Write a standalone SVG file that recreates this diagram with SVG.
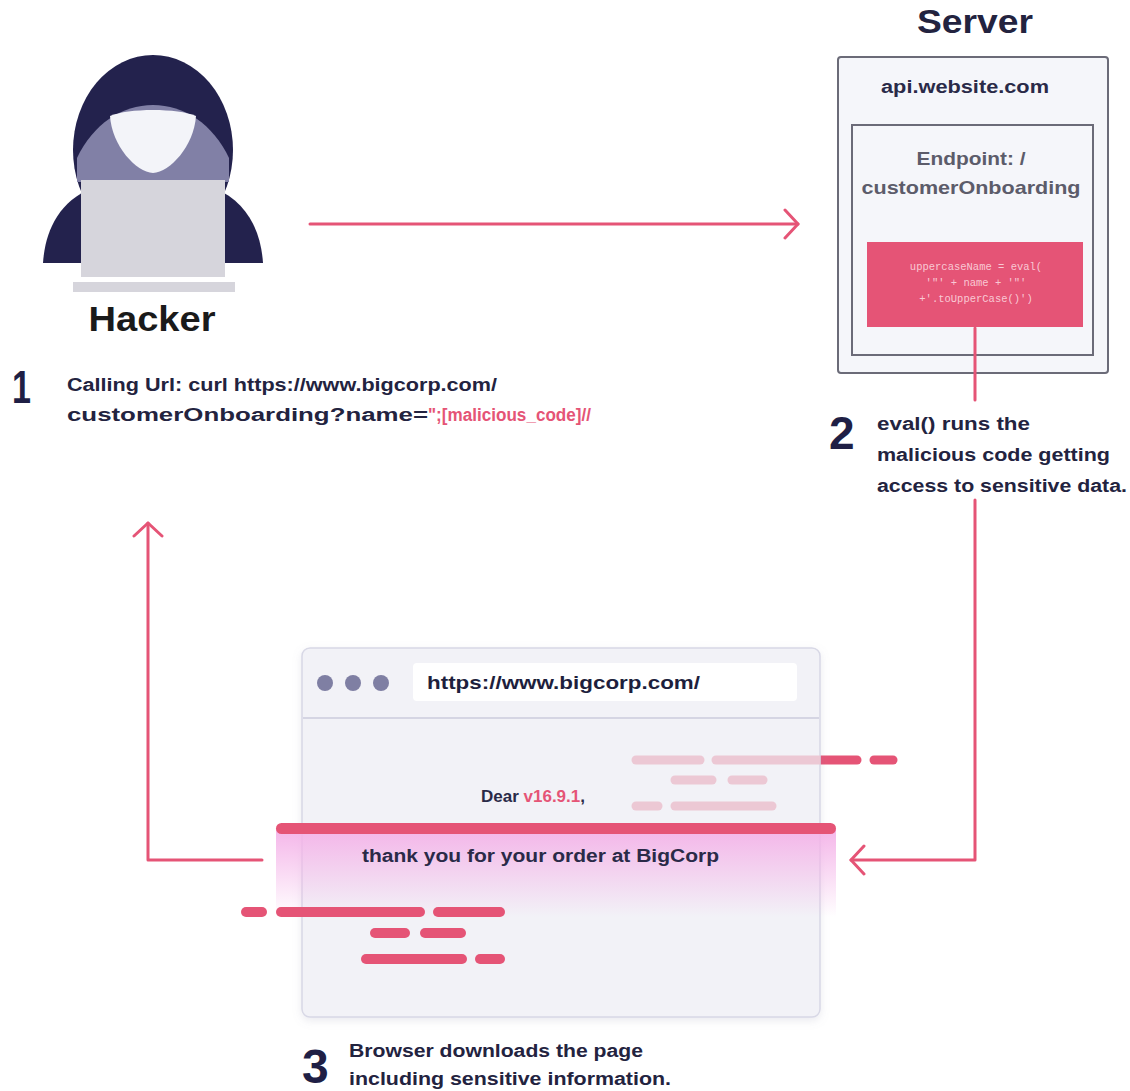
<svg xmlns="http://www.w3.org/2000/svg" width="1130" height="1091" viewBox="0 0 1130 1091">
  <style>
    .t { font-family: "Liberation Sans", Arial, sans-serif; font-weight: bold; fill: #23233f; }
    .num { font-family: "Liberation Sans", Arial, sans-serif; font-weight: bold; fill: #1f1f45; }
    .pink { fill: #e55476; }
    .wire { fill: none; stroke: #e55476; stroke-width: 3; stroke-linecap: round; stroke-linejoin: round; }
    .dash { stroke: #e55476; stroke-linecap: round; }
    .dash-light { stroke: #ecc8d4; stroke-linecap: round; }
    .code { font-family: "Liberation Mono", "DejaVu Sans Mono", monospace; font-size: 10.5px; fill: #f9c8d4; }
  </style>
  <defs>
    <marker id="chev" viewBox="0 0 18 32" refX="16" refY="16" markerWidth="18" markerHeight="32" markerUnits="userSpaceOnUse" orient="auto">
      <path d="M3 2 L16 16 L3 30" fill="none" stroke="#e55476" stroke-width="3" stroke-linecap="round" stroke-linejoin="round"/>
    </marker>
    <linearGradient id="glow" x1="0" y1="0" x2="0" y2="1">
      <stop offset="0" stop-color="#f4b2e8" stop-opacity="0.95"/>
      <stop offset="1" stop-color="#f4b2e8" stop-opacity="0"/>
    </linearGradient>
    <filter id="shadow" x="-5%" y="-5%" width="110%" height="115%">
      <feDropShadow dx="0" dy="3" stdDeviation="4" flood-color="#8a8aa8" flood-opacity="0.18"/>
    </filter>
    <clipPath id="win">
      <rect x="302" y="648" width="518" height="369" rx="8"/>
    </clipPath>
  </defs>

  <rect width="1130" height="1091" fill="#ffffff"/>

  <!-- hacker figure -->
  <g id="hacker">
    <path d="M43 263 C45 232 58 202 92 188 L214 188 C248 202 261 232 263 263 Z" fill="#23224d"/>
    <ellipse cx="153" cy="150" rx="80" ry="95" fill="#23224d"/>
    <path d="M77 182 L77 158 C93 124 122 105 153 105 C184 105 213 124 229 158 L229 182 Z" fill="#8180a6"/>
    <path d="M110 116 C112 146 136 172 153 173 C170 172 194 146 196 116 C178 108 128 108 110 116 Z" fill="#f3f4f9"/>
    <rect x="81" y="180" width="144" height="97" fill="#d6d5dc"/>
    <rect x="73" y="282" width="162" height="10" fill="#d6d5dc"/>
    <text class="t" x="152" y="331" font-size="35" text-anchor="middle" style="fill:#1a1a1a" textLength="127" lengthAdjust="spacingAndGlyphs">Hacker</text>
  </g>

  <!-- server -->
  <g id="server">
    <text class="t" x="975" y="33" font-size="33" text-anchor="middle" textLength="116" lengthAdjust="spacingAndGlyphs">Server</text>
    <rect x="838" y="57" width="270" height="316" rx="3" fill="#f5f6fa" stroke="#6b6b78" stroke-width="2"/>
    <text class="t" x="965" y="93" font-size="18" text-anchor="middle" textLength="168" lengthAdjust="spacingAndGlyphs" style="fill:#2a2a48">api.website.com</text>
    <g id="endpoint">
      <rect x="852" y="125" width="241" height="230" fill="#f5f6fa" stroke="#6b6b78" stroke-width="2"/>
      <text class="t" x="971" y="165" font-size="19" text-anchor="middle" textLength="109" lengthAdjust="spacingAndGlyphs" style="fill:#5c5c6a">Endpoint: /</text>
      <text class="t" x="971" y="194" font-size="19" text-anchor="middle" textLength="219" lengthAdjust="spacingAndGlyphs" style="fill:#5c5c6a">customerOnboarding</text>
    </g>
    <g id="code">
      <rect x="867" y="242" width="216" height="85" fill="#e55476"/>
      <text class="code" x="976" y="270" text-anchor="middle">uppercaseName = eval(</text>
      <text class="code" x="976" y="286" text-anchor="middle">'"' + name + '"'</text>
      <text class="code" x="976" y="302" text-anchor="middle">+'.toUpperCase()')</text>
    </g>
  </g>

  <!-- step captions -->
  <g id="step1">
    <text class="num" x="12" y="403" font-size="46" textLength="19" lengthAdjust="spacingAndGlyphs">1</text>
    <text class="t" x="67" y="391" font-size="18" textLength="430" lengthAdjust="spacingAndGlyphs">Calling Url: curl https://www.bigcorp.com/</text>
    <text class="t" x="67" y="421" font-size="18"><tspan textLength="361" lengthAdjust="spacingAndGlyphs">customerOnboarding?name=</tspan><tspan class="pink" textLength="163" lengthAdjust="spacingAndGlyphs">";[malicious_code]//</tspan></text>
  </g>
  <g id="step2">
    <text class="num" x="829" y="449" font-size="46">2</text>
    <text class="t" x="877" y="430" font-size="18" textLength="153" lengthAdjust="spacingAndGlyphs">eval() runs the</text>
    <text class="t" x="877" y="461" font-size="18" textLength="233" lengthAdjust="spacingAndGlyphs">malicious code getting</text>
    <text class="t" x="877" y="492" font-size="18" textLength="250" lengthAdjust="spacingAndGlyphs">access to sensitive data.</text>
  </g>
  <g id="step3">
    <text class="num" x="302" y="1083" font-size="48">3</text>
    <text class="t" x="349" y="1057" font-size="18" textLength="294" lengthAdjust="spacingAndGlyphs">Browser downloads the page</text>
    <text class="t" x="349" y="1085" font-size="18" textLength="322" lengthAdjust="spacingAndGlyphs">including sensitive information.</text>
  </g>

  <!-- response data streaming behind the page -->
  <g id="data-back" stroke-width="9">
    <line class="dash" x1="636" y1="760" x2="700" y2="760"/>
    <line class="dash" x1="716" y1="760" x2="857" y2="760"/>
    <line class="dash" x1="874" y1="760" x2="893" y2="760"/>
    <line class="dash" x1="675" y1="780" x2="712" y2="780"/>
    <line class="dash" x1="732" y1="780" x2="763" y2="780"/>
    <line class="dash" x1="636" y1="806" x2="658" y2="806"/>
    <line class="dash" x1="675" y1="806" x2="772" y2="806"/>
  </g>

  <!-- browser window -->
  <g id="browser">
    <rect x="302" y="648" width="518" height="369" rx="8" fill="#f2f2f7" stroke="#d8d8e6" stroke-width="1.5" filter="url(#shadow)"/>
    <line x1="303" y1="718" x2="819" y2="718" stroke="#d5d5e3" stroke-width="2"/>
    <circle cx="325" cy="683" r="8" fill="#7f7fa3"/>
    <circle cx="353" cy="683" r="8" fill="#7f7fa3"/>
    <circle cx="381" cy="683" r="8" fill="#7f7fa3"/>
    <rect x="413" y="663" width="384" height="38" rx="4" fill="#ffffff"/>
    <text class="t" x="427" y="689" font-size="18" textLength="273" lengthAdjust="spacingAndGlyphs" style="fill:#1e1f3d">https://www.bigcorp.com/</text>
    <g clip-path="url(#win)" stroke-width="9">
      <line class="dash-light" x1="636" y1="760" x2="700" y2="760"/>
      <line class="dash-light" x1="716" y1="760" x2="857" y2="760"/>
      <line class="dash-light" x1="675" y1="780" x2="712" y2="780"/>
      <line class="dash-light" x1="732" y1="780" x2="763" y2="780"/>
      <line class="dash-light" x1="636" y1="806" x2="658" y2="806"/>
      <line class="dash-light" x1="675" y1="806" x2="772" y2="806"/>
    </g>
    <text class="t" x="481" y="802" font-size="17" style="fill:#2a2a48"><tspan>Dear </tspan><tspan class="pink">v16.9.1</tspan><tspan>,</tspan></text>
    <rect x="276" y="829" width="560" height="88" fill="url(#glow)"/>
    <rect x="276" y="823" width="560" height="11" rx="5.5" fill="#e55476"/>
    <text class="t" x="362" y="862" font-size="18" textLength="357" lengthAdjust="spacingAndGlyphs" style="fill:#2a2a48">thank you for your order at BigCorp</text>
    <g stroke-width="10">
      <line class="dash" x1="246" y1="912" x2="262" y2="912"/>
      <line class="dash" x1="281" y1="912" x2="420" y2="912"/>
      <line class="dash" x1="438" y1="912" x2="500" y2="912"/>
      <line class="dash" x1="375" y1="933" x2="405" y2="933"/>
      <line class="dash" x1="425" y1="933" x2="461" y2="933"/>
      <line class="dash" x1="366" y1="959" x2="462" y2="959"/>
      <line class="dash" x1="480" y1="959" x2="500" y2="959"/>
    </g>
  </g>

  <!-- connectors -->
  <g id="connectors">
    <line class="wire" x1="310" y1="224" x2="798" y2="224" marker-end="url(#chev)"/>
    <line class="wire" x1="975" y1="328" x2="975" y2="400"/>
    <polyline class="wire" points="975,500 975,860 851,860" marker-end="url(#chev)"/>
    <polyline class="wire" points="262,860 148,860 148,523" marker-end="url(#chev)"/>
  </g>
</svg>
